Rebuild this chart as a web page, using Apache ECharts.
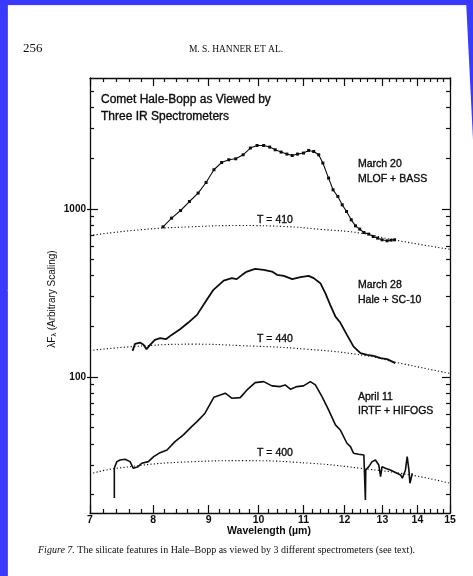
<!DOCTYPE html>
<html>
<head>
<meta charset="utf-8">
<script src="https://cdn.jsdelivr.net/npm/echarts@6/dist/echarts.min.js"></script>
<style>
  html, body { margin: 0; padding: 0; background: #ffffff; }
  #chart { width: 473px; height: 576px; }
</style>
</head>
<body>
<div id="chart"></div>
<script>
// March 20 spectrum (MLOF + BASS), wavelength in micron, lambda*F_lambda
const mar20Wave = [8.17, 8.32, 8.48, 8.64, 8.80, 8.95, 9.10, 9.25, 9.39, 9.53, 9.68, 9.83, 9.97, 10.11, 10.24, 10.36, 10.49, 10.62, 10.74, 10.86, 11.00, 11.12, 11.24, 11.36, 11.46, 11.60, 11.71, 11.83, 11.94, 12.05, 12.17, 12.28, 12.39, 12.50, 12.63, 12.75, 12.87, 12.99, 13.13, 13.24, 13.34];
const mar20Flux = [781, 880, 977, 1105, 1240, 1434, 1707, 1886, 1957, 1984, 2096, 2298, 2381, 2381, 2329, 2245, 2175, 2116, 2076, 2116, 2146, 2224, 2193, 2096, 1871, 1523, 1297, 1184, 1056, 964, 860, 792, 757, 723, 707, 684, 669, 654, 645, 651, 654];

// March 28 spectrum (Hale + SC-10)
const mar28Wave = [7.66, 7.70, 7.78, 7.84, 7.89, 7.95, 8.03, 8.12, 8.22, 8.32, 8.47, 8.62, 8.78, 8.93, 9.09, 9.29, 9.45, 9.55, 9.66, 9.76, 9.93, 10.11, 10.29, 10.40, 10.55, 10.74, 10.93, 11.12, 11.24, 11.40, 11.52, 11.64, 11.77, 11.89, 12.06, 12.23, 12.41, 12.59, 12.76, 12.95, 13.13, 13.36];
const mar28Flux = [142.8, 157.2, 160.0, 155.1, 146.2, 155.1, 166.1, 170.0, 167.7, 177.8, 192.2, 210.5, 233.9, 276.9, 329.5, 374.3, 386.8, 381.5, 404.7, 423.4, 439.4, 433.4, 423.4, 404.7, 399.2, 381.5, 392.1, 399.2, 386.8, 361.1, 315.0, 268.3, 228.5, 210.5, 177.8, 151.5, 138.4, 135.2, 133.4, 129.2, 127.5, 120.7];

// April 11 spectrum (IRTF + HIFOGS)
const apr11Wave = [7.37, 7.37, 7.41, 7.46, 7.54, 7.62, 7.67, 7.75, 7.81, 7.92, 8.01, 8.12, 8.24, 8.38, 8.53, 8.68, 8.78, 8.93, 9.10, 9.32, 9.45, 9.62, 9.76, 9.93, 10.11, 10.29, 10.47, 10.58, 10.70, 10.85, 11.00, 11.16, 11.28, 11.44, 11.60, 11.77, 11.89, 12.06, 12.15, 12.23, 12.36, 12.50, 12.54, 12.55, 12.63, 12.72, 12.81, 12.90, 12.95, 12.99, 13.08, 13.22, 13.51, 13.56, 13.65, 13.70, 13.75, 13.78, 13.85];
const apr11Flux = [19.05, 28.73, 31.32, 32.06, 32.37, 31.32, 28.61, 29.25, 30.64, 31.32, 33.55, 35.43, 36.77, 41.19, 45.16, 50.60, 54.20, 60.81, 75.72, 79.99, 74.69, 75.30, 83.66, 92.48, 93.78, 88.41, 87.57, 89.63, 84.47, 87.57, 88.41, 93.78, 89.63, 76.34, 63.62, 51.80, 48.36, 40.30, 38.47, 35.14, 34.67, 34.34, 18.53, 27.96, 29.25, 31.32, 32.06, 29.93, 25.50, 29.25, 28.61, 27.96, 26.10, 24.95, 27.96, 33.55, 27.96, 23.30, 26.72];

// Blackbody continua
const bb410Wave = [7.00, 7.78, 8.65, 9.62, 10.54, 11.40, 12.41, 13.31, 15.00];
const bb410Flux = [694, 750, 781, 795, 785, 755, 717, 654, 574];
const bb440Wave = [7.00, 7.67, 8.71, 9.62, 11.08, 12.59, 13.41, 15.00];
const bb440Flux = [143.4, 151.5, 156.6, 153.6, 146.2, 133.4, 121.7, 104.9];
const bb400Wave = [7.00, 7.41, 8.71, 9.69, 11.16, 12.41, 13.80, 15.00];
const bb400Flux = [26.47, 28.61, 31.32, 31.75, 30.64, 28.61, 26.10, 23.30];

// Axis ticks
const xMajorTicks = [7, 8, 9, 10, 11, 12, 13, 14, 15];
const xMinorTicks = [7.2, 7.4, 7.6, 7.8, 8.2, 8.4, 8.6, 8.8, 9.2, 9.4, 9.6, 9.8, 10.2, 10.4, 10.6, 10.8, 11.2, 11.4, 11.6, 11.8, 12.2, 12.4, 12.6, 12.8, 13.2, 13.4, 13.6, 13.8, 14.2, 14.4, 14.6, 14.8];
const yMajorTicks = [100, 1000];
const yMinorTicks = [20, 30, 40, 50, 60, 70, 80, 90, 200, 300, 400, 500, 600, 700, 800, 900, 2000, 3000, 4000, 5000];

const X_MIN = 7, X_MAX = 15, Y_MIN = 15.5, Y_MAX = 6000;
const INK = '#0d0d0d';
const SANS = '"Liberation Sans", Arial, Helvetica, sans-serif';
const SERIF = '"Liberation Serif", "Times New Roman", serif';

const pairs = (xs, ys) => xs.map((x, i) => [x, ys[i]]);

function xAxisDef(position, ticks, len, opts) {
  return Object.assign({
    type: 'log', logBase: 10, min: X_MIN, max: X_MAX, position: position,
    axisLine: { show: false, lineStyle: { color: INK, width: 1.3 } },
    axisTick: { show: true, inside: true, length: len, customValues: ticks, lineStyle: { color: INK, width: 1.2 } },
    axisLabel: { show: false },
    splitLine: { show: false }, minorTick: { show: false }, minorSplitLine: { show: false }
  }, opts || {});
}
function yAxisDef(position, ticks, len, opts) {
  return Object.assign({
    type: 'log', logBase: 10, min: Y_MIN, max: Y_MAX, position: position,
    axisLine: { show: false, lineStyle: { color: INK, width: 1.3 } },
    axisTick: { show: true, inside: true, length: len, customValues: ticks, lineStyle: { color: INK, width: 1.2 } },
    axisLabel: { show: false },
    splitLine: { show: false }, minorTick: { show: false }, minorSplitLine: { show: false }
  }, opts || {});
}

const plainNumber = v => String(Math.round(v));

const xAxes = [
  xAxisDef('bottom', xMajorTicks, 8, {
    axisLine: { show: true, onZero: false, lineStyle: { color: INK, width: 1.3 } },
    axisLabel: { show: true, customValues: xMajorTicks, formatter: plainNumber, margin: 2, color: INK, fontFamily: SANS, fontSize: 10.5, fontWeight: 'bold' }
  }),
  xAxisDef('bottom', xMinorTicks, 4),
  xAxisDef('top', xMajorTicks, 8, { axisLine: { show: true, onZero: false, lineStyle: { color: INK, width: 1.3 } } }),
  xAxisDef('top', xMinorTicks, 4)
];
const yAxes = [
  yAxisDef('left', yMajorTicks, 8, {
    axisLine: { show: true, onZero: false, lineStyle: { color: INK, width: 1.3 } },
    axisLabel: { show: true, customValues: yMajorTicks, formatter: plainNumber, margin: 4, color: INK, fontFamily: SANS, fontSize: 10, fontWeight: 'bold' }
  }),
  yAxisDef('left', yMinorTicks, 4),
  yAxisDef('right', yMajorTicks, 8, { axisLine: { show: true, onZero: false, lineStyle: { color: INK, width: 1.3 } } }),
  yAxisDef('right', yMinorTicks, 4),
  yAxisDef('left', yMajorTicks, 3, { axisTick: { show: true, inside: false, length: 3, customValues: yMajorTicks, lineStyle: { color: INK, width: 1.2 } } })
];

function spectrum(name, xs, ys, width, withMarks) {
  return {
    name: name, type: 'line', xAxisIndex: 0, yAxisIndex: 0,
    data: pairs(xs, ys),
    showSymbol: !!withMarks, symbol: 'rect', symbolSize: 3,
    itemStyle: { color: INK },
    lineStyle: { color: INK, width: width },
    silent: true, animation: false, z: 5
  };
}
function continuum(name, xs, ys) {
  return {
    name: name, type: 'line', xAxisIndex: 0, yAxisIndex: 0,
    data: pairs(xs, ys), showSymbol: false, smooth: 0.5,
    lineStyle: { color: INK, width: 1.1, type: [1.2, 2.2] },
    silent: true, animation: false, z: 3
  };
}

// Annotation text, lightly stroked to give the printed weight
const txt = (x, y, text, size, extra) => ({
  type: 'text', x: x, y: y, z: 50, silent: true,
  style: Object.assign({ text: text, fill: INK, stroke: INK, lineWidth: 0.35, font: size + 'px ' + SANS, textAlign: 'left', textVerticalAlign: 'middle' }, extra || {})
});

const chart = echarts.init(document.getElementById('chart'), null, { renderer: 'canvas' });
chart.setOption({
  backgroundColor: '#ffffff',
  animation: false,
  grid: { left: 90, right: 23, top: 78, bottom: 63, outerBoundsMode: 'none', containLabel: false },
  xAxis: xAxes,
  yAxis: yAxes,
  series: [
    continuum('T = 410', bb410Wave, bb410Flux),
    continuum('T = 440', bb440Wave, bb440Flux),
    continuum('T = 400', bb400Wave, bb400Flux),
    spectrum('March 20', mar20Wave, mar20Flux, 1.1, true),
    spectrum('March 28', mar28Wave, mar28Flux, 1.8, false),
    spectrum('April 11', apr11Wave, apr11Flux, 1.6, false)
  ],
  graphic: [
    // page frame
    { type: 'rect', silent: true, z: 60, shape: { x: 0, y: 0, width: 7, height: 576 }, style: { fill: '#3a3aff' } },
    { type: 'rect', silent: true, z: 60, shape: { x: 0, y: 0, width: 473, height: 5 }, style: { fill: '#3a3aff' } },
    { type: 'polygon', silent: true, z: 60, shape: { points: [[466, 0], [473, 0], [473, 140]] }, style: { fill: '#3a3aff' } },
    { type: 'line', silent: true, z: 60, shape: { x1: 7.5, y1: 5, x2: 7.5, y2: 576 }, style: { stroke: '#666', lineWidth: 1 } },
    // running head
    { type: 'text', x: 23, y: 49, z: 50, silent: true, style: { text: '256', fill: INK, font: '13px ' + SERIF, textAlign: 'left', textVerticalAlign: 'middle' } },
    { type: 'text', x: 236, y: 49, z: 50, silent: true, style: { text: 'M. S. HANNER ET AL.', fill: INK, font: '9.5px ' + SERIF, textAlign: 'center', textVerticalAlign: 'middle' } },
    // plot title
    txt(101, 100, 'Comet Hale-Bopp as Viewed by', 12),
    txt(101, 117, 'Three IR Spectrometers', 12),
    // spectrum labels
    txt(358, 164, 'March 20', 10.5),
    txt(358, 179, 'MLOF + BASS', 10.5),
    txt(358, 285, 'March 28', 10.5),
    txt(358, 300, 'Hale + SC-10', 10.5),
    txt(358, 397, 'April 11', 10.5),
    txt(358, 411, 'IRTF + HIFOGS', 10.5),
    // continuum temperatures
    txt(257, 220, 'T = 410', 10.5),
    txt(257, 339, 'T = 440', 10.5),
    txt(257, 453, 'T = 400', 10.5),
    // axis names
    { type: 'text', x: 269, y: 531, z: 50, silent: true, style: { text: 'Wavelength (µm)', fill: INK, font: 'bold 10.5px ' + SANS, textAlign: 'center', textVerticalAlign: 'middle' } },
    {
      type: 'text', x: 52, y: 299, rotation: Math.PI / 2, z: 50, silent: true,
      style: {
        text: '{m|λF}{s|λ}{m| (Arbitrary Scaling)}', align: 'center', verticalAlign: 'middle',
        rich: {
          m: { fontFamily: SANS, fontSize: 10, fill: INK, color: INK, lineHeight: 12, verticalAlign: 'middle' },
          s: { fontFamily: SANS, fontSize: 7, fill: INK, color: INK, lineHeight: 12, verticalAlign: 'bottom' }
        }
      }
    },
    // caption
    {
      type: 'text', x: 38, y: 550, z: 50, silent: true,
      style: {
        text: '{i|Figure 7.}{r| The silicate features in Hale–Bopp as viewed by 3 different spectrometers (see text).}',
        align: 'left', verticalAlign: 'middle',
        rich: {
          i: { fontFamily: SERIF, fontSize: 10, fontStyle: 'italic', fill: INK, color: INK },
          r: { fontFamily: SERIF, fontSize: 10, fill: INK, color: INK }
        }
      }
    }
  ]
});
</script>
</body>
</html>
